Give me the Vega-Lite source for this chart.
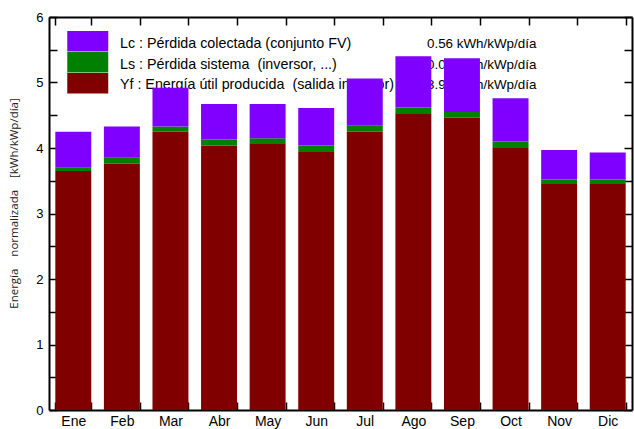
{
  "$schema": "https://vega.github.io/schema/vega-lite/v6.json",
  "width": 583,
  "height": 393,
  "autosize": {"type": "none"},
  "padding": {"left": 49, "top": 17, "right": 2, "bottom": 19},
  "background": "white",
  "config": {
    "view": {"stroke": null},
    "font": "Liberation Sans"
  },
  "datasets": {
    "energia": [
      {"mes": "Ene", "comp": "Yf", "ord": 0, "val": 3.65}, {"mes": "Ene", "comp": "Ls", "ord": 1, "val": 0.05}, {"mes": "Ene", "comp": "Lc", "ord": 2, "val": 0.55},
      {"mes": "Feb", "comp": "Yf", "ord": 0, "val": 3.76}, {"mes": "Feb", "comp": "Ls", "ord": 1, "val": 0.09}, {"mes": "Feb", "comp": "Lc", "ord": 2, "val": 0.48},
      {"mes": "Mar", "comp": "Yf", "ord": 0, "val": 4.25}, {"mes": "Mar", "comp": "Ls", "ord": 1, "val": 0.08}, {"mes": "Mar", "comp": "Lc", "ord": 2, "val": 0.59},
      {"mes": "Abr", "comp": "Yf", "ord": 0, "val": 4.04}, {"mes": "Abr", "comp": "Ls", "ord": 1, "val": 0.09}, {"mes": "Abr", "comp": "Lc", "ord": 2, "val": 0.54},
      {"mes": "May", "comp": "Yf", "ord": 0, "val": 4.06}, {"mes": "May", "comp": "Ls", "ord": 1, "val": 0.09}, {"mes": "May", "comp": "Lc", "ord": 2, "val": 0.52},
      {"mes": "Jun", "comp": "Yf", "ord": 0, "val": 3.94}, {"mes": "Jun", "comp": "Ls", "ord": 1, "val": 0.10}, {"mes": "Jun", "comp": "Lc", "ord": 2, "val": 0.57},
      {"mes": "Jul", "comp": "Yf", "ord": 0, "val": 4.25}, {"mes": "Jul", "comp": "Ls", "ord": 1, "val": 0.09}, {"mes": "Jul", "comp": "Lc", "ord": 2, "val": 0.72},
      {"mes": "Ago", "comp": "Yf", "ord": 0, "val": 4.52}, {"mes": "Ago", "comp": "Ls", "ord": 1, "val": 0.10}, {"mes": "Ago", "comp": "Lc", "ord": 2, "val": 0.78},
      {"mes": "Sep", "comp": "Yf", "ord": 0, "val": 4.46}, {"mes": "Sep", "comp": "Ls", "ord": 1, "val": 0.09}, {"mes": "Sep", "comp": "Lc", "ord": 2, "val": 0.82},
      {"mes": "Oct", "comp": "Yf", "ord": 0, "val": 4.00}, {"mes": "Oct", "comp": "Ls", "ord": 1, "val": 0.10}, {"mes": "Oct", "comp": "Lc", "ord": 2, "val": 0.66},
      {"mes": "Nov", "comp": "Yf", "ord": 0, "val": 3.45}, {"mes": "Nov", "comp": "Ls", "ord": 1, "val": 0.07}, {"mes": "Nov", "comp": "Lc", "ord": 2, "val": 0.45},
      {"mes": "Dic", "comp": "Yf", "ord": 0, "val": 3.45}, {"mes": "Dic", "comp": "Ls", "ord": 1, "val": 0.07}, {"mes": "Dic", "comp": "Lc", "ord": 2, "val": 0.41}
    ]
  },
  "resolve": {"scale": {"x": "independent"}, "axis": {"x": "independent", "y": "independent"}},
  "layer": [
    {
      "data": {"values": [{"texto": "leyenda"}]},
      "mark": {
        "type": "text", "align": "left", "baseline": "alphabetic",
        "font": "Liberation Sans", "fontSize": 14.3, "color": "black", "lineHeight": 20.5,
        "text": ["Lc : Pérdida colectada (conjunto FV)", "Ls : Pérdida sistema \u00a0(inversor, ...)", "Yf : Energía útil producida \u00a0(salida inversor)"]
      },
      "encoding": {
        "x": {"datum": 1.46, "type": "quantitative", "scale": {"domain": [0, 12]}, "axis": null},
        "y": {"datum": 5.52, "type": "quantitative", "axis": null}
      }
    },
    {
      "data": {"values": [{"texto": "valores"}]},
      "mark": {
        "type": "text", "align": "left", "baseline": "alphabetic",
        "font": "Liberation Sans", "fontSize": 13.4, "color": "black", "lineHeight": 20.5,
        "text": ["0.56 kWh/kWp/día", "0.09 kWh/kWp/día", "3.94 kWh/kWp/día"]
      },
      "encoding": {
        "x": {"datum": 7.78, "type": "quantitative", "scale": {"domain": [0, 12]}, "axis": null},
        "y": {"datum": 5.52, "type": "quantitative", "axis": null}
      }
    },
    {
      "data": {"name": "energia"},
      "mark": {"type": "bar"},
      "encoding": {
        "x": {
          "field": "mes", "type": "nominal",
          "sort": ["Ene","Feb","Mar","Abr","May","Jun","Jul","Ago","Sep","Oct","Nov","Dic"],
          "scale": {"paddingInner": 0.26, "paddingOuter": 0.13},
          "axis": {
            "orient": "bottom", "title": null, "labelAngle": 0,
            "tickBand": "extent", "tickSize": -8, "tickColor": "black", "tickWidth": 1.5,
            "domainColor": "black", "domainWidth": 2,
            "labelFontSize": 14, "labelColor": "black", "labelPadding": 12, "labelFont": "Liberation Sans"
          }
        },
        "y": {
          "field": "val", "type": "quantitative", "stack": "zero",
          "scale": {"domain": [0, 6], "nice": false},
          "axis": {
            "orient": "left",
            "values": [0,0.5,1,1.5,2,2.5,3,3.5,4,4.5,5,5.5,6],
            "format": ".0f",
            "labelExpr": "datum.value % 1 == 0 ? datum.label : ''",
            "grid": false, "tickSize": -8, "tickColor": "black", "tickWidth": 1.5,
            "domainColor": "black", "domainWidth": 2,
            "labelFontSize": 13, "labelColor": "black", "labelPadding": 14, "labelFont": "Liberation Sans",
            "title": "Energía\u00a0\u00a0\u00a0\u00a0normalizada\u00a0\u00a0\u00a0\u00a0[kWh/kWp/día]",
            "titleFont": "Open Sans", "titleFontSize": 11.5, "titleFontWeight": "normal", "titleColor": "#222",
            "titleX": -35, "titleY": 186, "titleAngle": 270, "titleAlign": "center", "titleBaseline": "middle"
          }
        },
        "color": {
          "field": "comp", "type": "nominal",
          "scale": {"domain": ["Lc","Ls","Yf"], "range": ["#8000ff","#008000","#800000"]},
          "legend": {
            "orient": "none", "legendX": 28.25, "legendY": 13.75, "padding": 0,
            "title": null,
            "symbolType": "M-2,-1H2V1H-2Z", "symbolSize": 420, "symbolStrokeWidth": 0, "symbolOpacity": 1,
            "labelFontSize": 10, "labelOpacity": 0, "labelExpr": "' '",
            "rowPadding": 0
          }
        },
        "order": {"field": "ord", "type": "quantitative"}
      }
    },
    {
      "data": {"name": "energia"},
      "mark": {"type": "bar", "opacity": 0},
      "encoding": {
        "x": {
          "field": "mes", "type": "nominal",
          "sort": ["Ene","Feb","Mar","Abr","May","Jun","Jul","Ago","Sep","Oct","Nov","Dic"],
          "scale": {"paddingInner": 0.26, "paddingOuter": 0.13},
          "axis": {
            "orient": "top", "title": null, "labels": false,
            "tickBand": "extent", "tickSize": -8, "tickColor": "black", "tickWidth": 1.5,
            "domainColor": "black", "domainWidth": 2
          }
        },
        "y": {
          "field": "val", "type": "quantitative", "stack": "zero",
          "axis": {
            "orient": "right", "title": null, "labels": false,
            "values": [0,0.5,1,1.5,2,2.5,3,3.5,4,4.5,5,5.5,6],
            "grid": false, "tickSize": -8, "tickColor": "black", "tickWidth": 1.5,
            "domainColor": "black", "domainWidth": 2
          }
        }
      }
    }
  ]
}
